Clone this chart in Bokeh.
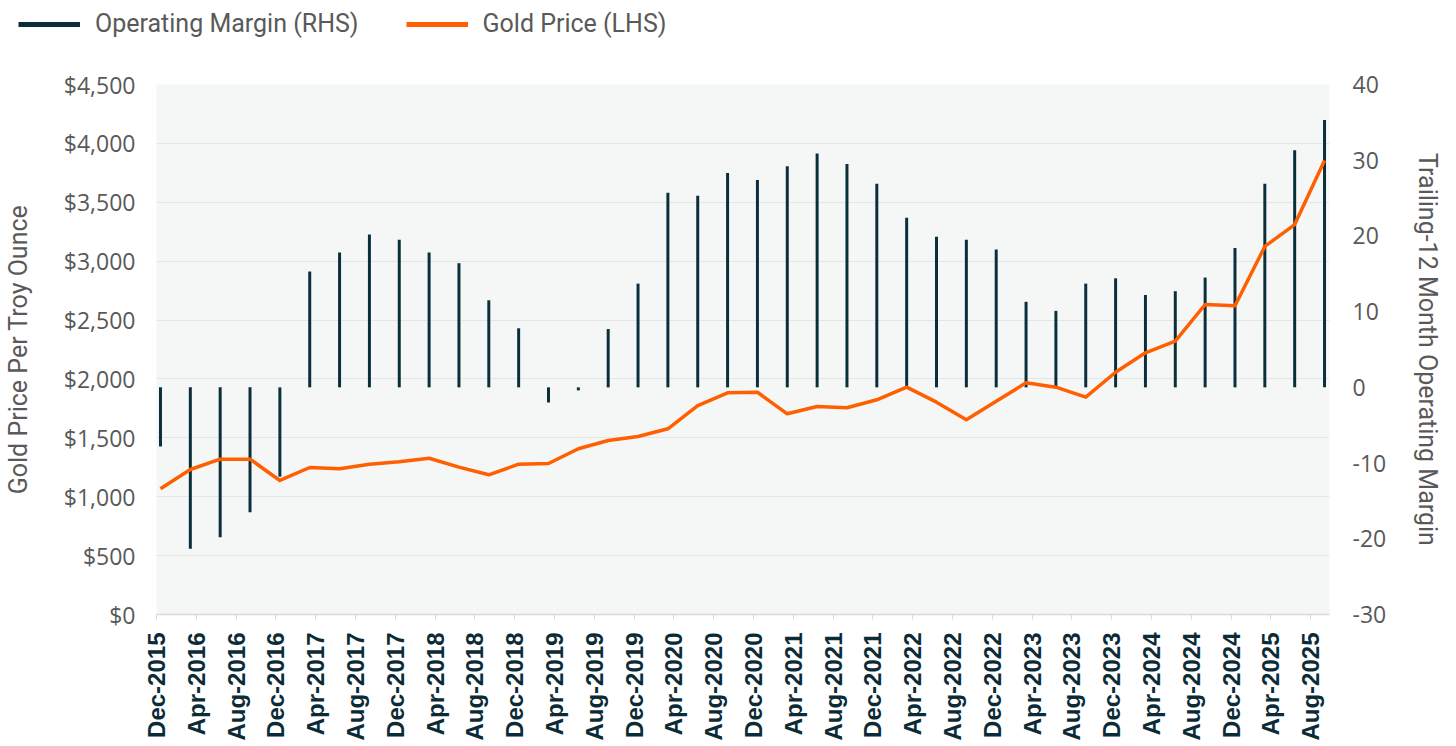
from math import pi
from bokeh.plotting import figure
from bokeh.layouts import column
from bokeh.models import (Range1d, LinearAxis, Legend, LegendItem, FixedTicker,
                          NumeralTickFormatter, ColumnDataSource)
from bokeh.embed import file_html
from bokeh.resources import INLINE

# ---------------- data ----------------
quarters = ["Dec-2015", "Mar-2016", "Jun-2016", "Sep-2016", "Dec-2016", "Mar-2017",
            "Jun-2017", "Sep-2017", "Dec-2017", "Mar-2018", "Jun-2018", "Sep-2018",
            "Dec-2018", "Mar-2019", "Jun-2019", "Sep-2019", "Dec-2019", "Mar-2020",
            "Jun-2020", "Sep-2020", "Dec-2020", "Mar-2021", "Jun-2021", "Sep-2021",
            "Dec-2021", "Mar-2022", "Jun-2022", "Sep-2022", "Dec-2022", "Mar-2023",
            "Jun-2023", "Sep-2023", "Dec-2023", "Mar-2024", "Jun-2024", "Sep-2024",
            "Dec-2024", "Mar-2025", "Jun-2025", "Sep-2025"]

operating_margin = [-7.8, -21.3, -19.8, -16.5, -11.8, 15.3, 17.8, 20.2, 19.5, 17.8,
                    16.4, 11.5, 7.8, -2.0, -0.4, 7.7, 13.7, 25.7, 25.3, 28.3,
                    27.4, 29.2, 30.9, 29.5, 26.9, 22.4, 19.9, 19.5, 18.2, 11.3,
                    10.1, 13.7, 14.4, 12.2, 12.7, 14.5, 18.4, 26.9, 31.3, 35.3]

gold_price = [1067, 1231, 1319, 1319, 1138, 1248, 1237, 1276, 1297, 1327,
              1251, 1186, 1276, 1282, 1407, 1477, 1511, 1577, 1774, 1882,
              1887, 1704, 1766, 1755, 1823, 1930, 1803, 1653, 1810, 1967,
              1930, 1845, 2057, 2222, 2321, 2632, 2621, 3125, 3311, 3855]

tick_labels = ["Dec-2015", "Apr-2016", "Aug-2016", "Dec-2016", "Apr-2017", "Aug-2017",
               "Dec-2017", "Apr-2018", "Aug-2018", "Dec-2018", "Apr-2019", "Aug-2019",
               "Dec-2019", "Apr-2020", "Aug-2020", "Dec-2020", "Apr-2021", "Aug-2021",
               "Dec-2021", "Apr-2022", "Aug-2022", "Dec-2022", "Apr-2023", "Aug-2023",
               "Dec-2023", "Apr-2024", "Aug-2024", "Dec-2024", "Apr-2025", "Aug-2025"]

left_ticks = [0, 500, 1000, 1500, 2000, 2500, 3000, 3500, 4000, 4500]
right_ticks = [-30, -20, -10, 0, 10, 20, 30, 40]

series_names = ["Operating Margin (RHS)", "Gold Price (LHS)"]

# ---------------- helpers ----------------
MONTHS = {"Jan": 1, "Feb": 2, "Mar": 3, "Apr": 4, "May": 5, "Jun": 6,
          "Jul": 7, "Aug": 8, "Sep": 9, "Oct": 10, "Nov": 11, "Dec": 12}


def month_index(lbl):
    m, y = lbl.split("-")
    return (int(y) - 2015) * 12 + MONTHS[m] - 12


x = [month_index(q) for q in quarters]
tick_pos = [month_index(t) - 0.4 for t in tick_labels]

src = ColumnDataSource(dict(x=x, margin=operating_margin, gold=gold_price))

TEXT_GREY = "#595959"
DARK = "#0B2F3A"
ORANGE = "#FF5F00"
TITLE_FONT = "Roboto"
W = 1445

# ---------------- legend strip ----------------
LEG_H = 56
leg = figure(width=W, height=LEG_H, x_range=Range1d(0, W), y_range=Range1d(0, LEG_H),
             output_backend="svg", toolbar_location=None,
             x_axis_location=None, y_axis_location=None,
             min_border=0, outline_line_color=None)
leg.frame_align = False
leg.grid.visible = False
leg.background_fill_color = "white"
# legend-key renderers (kept outside the visible range)
r1 = leg.line(x=[-20, -10], y=[-20, -20], line_color=DARK, line_width=5)
r2 = leg.line(x=[-20, -10], y=[-20, -20], line_color=ORANGE, line_width=5)
legend = Legend(items=[LegendItem(label=series_names[0], renderers=[r1]),
                       LegendItem(label=series_names[1], renderers=[r2])],
                orientation="horizontal", location=(18, 18),
                glyph_width=62, glyph_height=20, label_standoff=15, spacing=47,
                padding=0, margin=0, border_line_color=None,
                background_fill_alpha=0,
                label_text_font=TITLE_FONT, label_text_font_size="25px",
                label_text_color=TEXT_GREY)
leg.add_layout(legend, "center")

# ---------------- main chart ----------------
p = figure(width=W, height=688,
           x_range=Range1d(-0.4, 117.5), y_range=Range1d(0, 4500),
           output_backend="svg", toolbar_location=None,
           min_border_left=149, min_border_right=110,
           min_border_top=28, min_border_bottom=130)
p.frame_align = False
p.extra_y_ranges = {"margin": Range1d(-30, 40)}

p.background_fill_color = "#F5F7F7"
p.border_fill_color = "white"
p.outline_line_color = None

bars = p.vbar(x="x", top="margin", bottom=0, width=0.3, source=src,
              y_range_name="margin", fill_color=DARK, line_color=None)
line = p.line(x="x", y="gold", source=src, line_width=3.5, line_color=ORANGE,
              line_join="round")

# grid
p.xgrid.grid_line_color = None
p.ygrid.grid_line_color = "#E4E6E6"
p.ygrid.grid_line_width = 1

# x axis
xa = p.xaxis[0]
xa.ticker = FixedTicker(ticks=tick_pos)
xa.major_label_overrides = {tp: lbl for tp, lbl in zip(tick_pos, tick_labels)}
xa.major_label_orientation = pi / 2
xa.major_label_text_font = "Liberation Sans"
xa.major_label_text_font_style = "bold"
xa.major_label_text_font_size = "24px"
xa.major_label_text_color = "#0B2B36"
xa.axis_line_color = "#D9D9D9"
xa.axis_line_width = 1.5
xa.major_tick_line_color = "#D9D9D9"
xa.major_tick_out = 5
xa.major_tick_in = 0
xa.minor_tick_line_color = None
xa.major_label_standoff = 13

# left axis
ya = p.yaxis[0]
ya.ticker = FixedTicker(ticks=left_ticks)
ya.formatter = NumeralTickFormatter(format="$0,0")
ya.axis_label = "Gold Price Per Troy Ounce"
ya.axis_label_text_font = TITLE_FONT
ya.axis_label_text_font_style = "normal"
ya.axis_label_text_font_size = "25px"
ya.axis_label_text_color = TEXT_GREY
ya.axis_label_standoff = 28
ya.major_label_text_font = "Open Sans"
ya.major_label_text_font_size = "23px"
ya.major_label_text_color = TEXT_GREY
ya.major_label_standoff = 15
ya.axis_line_color = None
ya.major_tick_line_color = None
ya.minor_tick_line_color = None

# right axis
ra = LinearAxis(y_range_name="margin", ticker=FixedTicker(ticks=right_ticks),
                formatter=NumeralTickFormatter(format="0"))
ra.axis_label = "Trailing-12 Month Operating Margin"
ra.axis_label_text_font = TITLE_FONT
ra.axis_label_text_font_style = "normal"
ra.axis_label_text_font_size = "25px"
ra.axis_label_text_color = TEXT_GREY
ra.axis_label_standoff = 24
ra.major_label_text_font = "Open Sans"
ra.major_label_text_font_size = "23px"
ra.major_label_text_color = TEXT_GREY
ra.major_label_standoff = 17
ra.axis_line_color = None
ra.major_tick_line_color = None
ra.minor_tick_line_color = None
p.add_layout(ra, "right")

layout = column(leg, p, spacing=0)
open("out.html", "w").write(file_html(layout, INLINE))
